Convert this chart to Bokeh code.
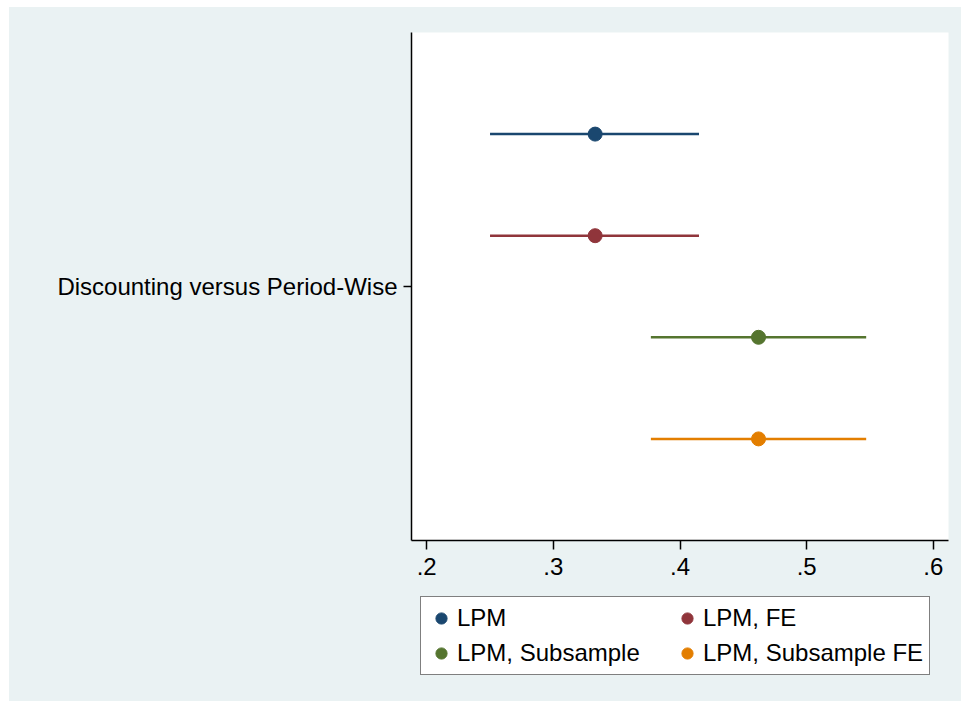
from bokeh.plotting import figure
from bokeh.models import (ColumnDataSource, FixedTicker, Legend, LegendItem, Range1d)
from bokeh.layouts import column
from bokeh.embed import file_html
from bokeh.resources import INLINE

# ---- data ----
category = "Discounting versus Period-Wise"
models = ["LPM", "LPM, FE", "LPM, Subsample", "LPM, Subsample FE"]
coef = [0.333, 0.333, 0.462, 0.462]
ci_low = [0.250, 0.250, 0.377, 0.377]
ci_high = [0.415, 0.415, 0.547, 0.547]
colors = ["#1a476f", "#90353b", "#55752f", "#e37e00"]
x_ticks = [0.2, 0.3, 0.4, 0.5, 0.6]
x_tick_labels = [".2", ".3", ".4", ".5", ".6"]

FONT = "Liberation Sans"
FS = "24px"
BG = "#eaf2f3"

n = len(models)
ypos = [0.3 - 0.2 * i for i in range(n)]  # dodge positions around the category

p = figure(width=952, height=578, output_backend="svg", toolbar_location=None,
           x_range=Range1d(0.188, 0.612), y_range=Range1d(-0.5, 0.5),
           min_border_left=402, min_border_top=25, min_border_right=13,
           min_border_bottom=45)
p.border_fill_color = BG
p.background_fill_color = "white"
p.outline_line_color = None
p.xgrid.visible = False
p.ygrid.visible = False

for i in range(n):
    src = ColumnDataSource(dict(y=[ypos[i]], c=[coef[i]], lo=[ci_low[i]], hi=[ci_high[i]]))
    p.segment(x0="lo", x1="hi", y0="y", y1="y", source=src,
              line_color=colors[i], line_width=2.5)
    p.scatter(x="c", y="y", source=src, size=14, marker="circle",
              fill_color=colors[i], line_color=colors[i])

# axes
for ax in (p.xaxis[0], p.yaxis[0]):
    ax.axis_line_color = "black"
    ax.axis_line_width = 1.5
    ax.major_tick_line_color = "black"
    ax.major_tick_line_width = 1.5
    ax.minor_tick_line_color = None
    ax.major_tick_in = 0
    ax.major_label_text_font = FONT
    ax.major_label_text_font_size = FS
    ax.major_label_text_color = "black"

p.xaxis.ticker = FixedTicker(ticks=x_ticks)
p.xaxis.major_label_overrides = {t: l for t, l in zip(x_ticks, x_tick_labels)}
p.xaxis.major_tick_out = 9
p.xaxis.major_label_standoff = 8

p.yaxis.ticker = FixedTicker(ticks=[0])
p.yaxis.major_label_overrides = {0: category}
p.yaxis.major_tick_out = 8
p.yaxis.major_label_standoff = 6

# legend panel (a second figure below the plot, same background)
pl = figure(width=952, height=116, output_backend="svg", toolbar_location=None,
            x_range=Range1d(0, 1), y_range=Range1d(0, 1),
            min_border=0, x_axis_location=None, y_axis_location=None)
pl.border_fill_color = BG
pl.background_fill_alpha = 0
pl.outline_line_color = None
pl.xgrid.visible = False
pl.ygrid.visible = False

items = []
for i in range(n):
    # legend-only renderer: its single point lies outside the visible range
    src = ColumnDataSource(dict(x=[5], y=[5]))
    r = pl.scatter(x="x", y="y", source=src, marker="circle", size=13,
                   fill_color=colors[i], line_color=colors[i])
    items.append(LegendItem(label=models[i], renderers=[r]))

legend = Legend(items=items, ncols=2, location=(9, 26),
                orientation="horizontal")
legend.label_text_font = FONT
legend.label_text_font_size = FS
legend.label_text_color = "black"
legend.border_line_color = "black"
legend.border_line_width = 1.5
legend.background_fill_color = "white"
legend.background_fill_alpha = 1
legend.padding = 6
legend.spacing = 5
legend.margin = 0
legend.glyph_width = 28
legend.glyph_height = 28
legend.label_height = 30
legend.label_standoff = 2
legend.label_width = 211
pl.add_layout(legend, "center")

layout = column(p, pl, spacing=0, margin=(7, 0, 0, 9),
                styles={"background-color": BG})
open("out.html", "w").write(file_html(layout, INLINE))
